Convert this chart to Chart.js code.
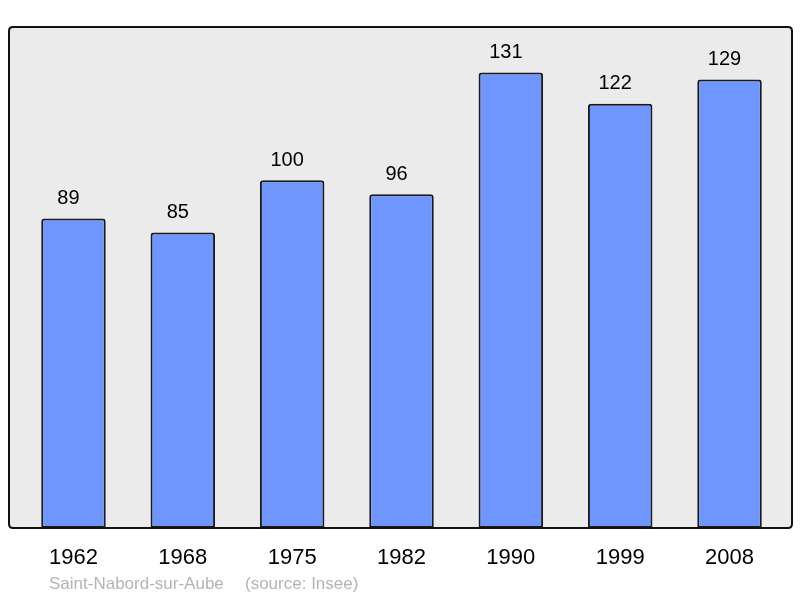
<!DOCTYPE html>
<html>
<head>
<meta charset="utf-8">
<script src="https://cdn.jsdelivr.net/npm/chart.js@4/dist/chart.umd.min.js"></script>
<style>
  html,body{margin:0;padding:0;background:#fff;}
  #wrap{position:relative;width:800px;height:598px;}
</style>
</head>
<body>
<div id="wrap"><canvas id="c" width="800" height="598"></canvas></div>
<script>
const years = ['1962','1968','1975','1982','1990','1999','2008'];
const population = [89, 85, 100, 96, 131, 122, 129];
const placeName = 'Saint-Nabord-sur-Aube';
const sourceText = '(source: Insee)';

const FONT = '"Liberation Sans", Arial, sans-serif';

const framePlugin = {
  id: 'frame',
  beforeDatasetsDraw(chart) {
    const ctx = chart.ctx;
    const y = chart.scales.y;
    ctx.save();
    ctx.fillStyle = '#ebebeb';
    roundRect(ctx, 9, y.top, 783, y.bottom - y.top, 4);
    ctx.fill();
    ctx.restore();
  },
  afterDatasetsDraw(chart) {
    const ctx = chart.ctx;
    const y = chart.scales.y;
    ctx.save();
    ctx.strokeStyle = '#111';
    ctx.lineWidth = 2;
    roundRect(ctx, 9, y.top, 783, y.bottom - y.top, 4);
    ctx.stroke();
    // value labels
    const meta = chart.getDatasetMeta(0);
    ctx.fillStyle = '#000';
    ctx.font = '20px ' + FONT;
    ctx.textAlign = 'center';
    ctx.textBaseline = 'middle';
    meta.data.forEach((bar, i) => {
      ctx.fillText(String(population[i]), bar.x - 5, bar.y - 20);
    });
    // source line
    ctx.fillStyle = '#b4b4b4';
    ctx.font = '17px ' + FONT;
    ctx.textAlign = 'left';
    ctx.fillText(placeName, 49, 584);
    ctx.fillText(sourceText, 245, 584);
    ctx.restore();
  }
};

function roundRect(ctx, x, y, w, h, r) {
  ctx.beginPath();
  ctx.moveTo(x + r, y);
  ctx.lineTo(x + w - r, y);
  ctx.quadraticCurveTo(x + w, y, x + w, y + r);
  ctx.lineTo(x + w, y + h - r);
  ctx.quadraticCurveTo(x + w, y + h, x + w - r, y + h);
  ctx.lineTo(x + r, y + h);
  ctx.quadraticCurveTo(x, y + h, x, y + h - r);
  ctx.lineTo(x, y + r);
  ctx.quadraticCurveTo(x, y, x + r, y);
  ctx.closePath();
}

new Chart(document.getElementById('c'), {
  type: 'bar',
  data: {
    labels: years,
    datasets: [{
      data: population,
      backgroundColor: '#6f96ff',
      borderColor: '#1a1a1a',
      borderWidth: 2,
      borderRadius: {topLeft: 3, topRight: 3, bottomLeft: 0, bottomRight: 0},
      borderSkipped: false,
      categoryPercentage: 1,
      barPercentage: 0.59
    }]
  },
  options: {
    responsive: false,
    animation: false,
    devicePixelRatio: 1,
    layout: { padding: { left: 18.8, right: 15.8, top: 27, bottom: 9.6 } },
    plugins: { legend: { display: false }, tooltip: { enabled: false } },
    scales: {
      y: { display: false, min: 0, max: 144.1 },
      x: {
        grid: { display: false, drawTicks: false },
        border: { display: false },
        ticks: { color: '#000', font: { family: FONT, size: 22 }, padding: 17, maxRotation: 0 }
      }
    }
  },
  plugins: [framePlugin]
});
</script>
</body>
</html>
